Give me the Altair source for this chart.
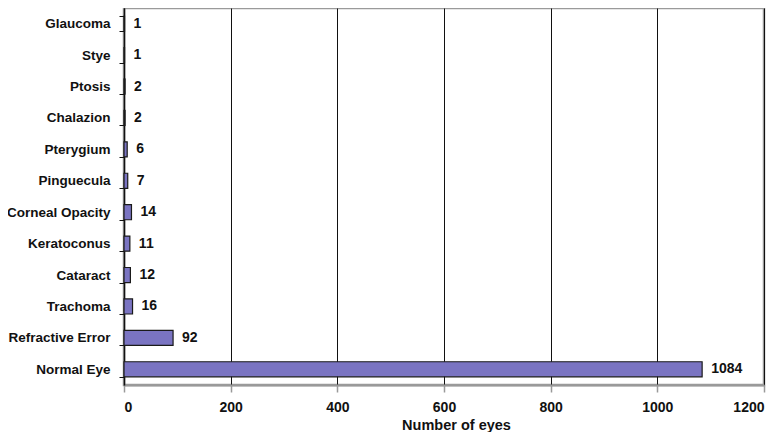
import altair as alt
import pandas as pd

categories = ["Glaucoma", "Stye", "Ptosis", "Chalazion", "Pterygium", "Pinguecula",
              "Corneal Opacity", "Keratoconus", "Cataract", "Trachoma",
              "Refractive Error", "Normal Eye"]
values = [1, 1, 2, 2, 6, 7, 14, 11, 12, 16, 92, 1084]
x_ticks = [0, 200, 400, 600, 800, 1000, 1200]

df = pd.DataFrame({"cat": categories, "n": values})

FONT = "Liberation Sans"

y_enc = alt.Y("cat:N", sort=categories, title=None,
              scale=alt.Scale(paddingInner=0.52, paddingOuter=0.26),
              axis=alt.Axis(domainColor="#111", domainWidth=1.5, tickColor="#111",
                            tickSize=5, tickBand="extent", labelFont=FONT,
                            labelFontWeight="bold", labelFontSize=13.5, labelColor="#111",
                            labelPadding=9, grid=False))
x_enc = alt.X("n:Q", title="Number of eyes",
              scale=alt.Scale(domain=[0, 1200], nice=False),
              axis=alt.Axis(values=x_ticks, format="d",
                            grid=True, gridColor="#111", gridWidth=1,
                            domainColor="#999", domainWidth=2,
                            tickColor="#999", tickSize=7, tickWidth=1.5,
                            labelFont=FONT, labelFontWeight="bold", labelFontSize=14,
                            labelColor="#111", labelPadding=8,
                            titleFont=FONT, titleFontWeight="bold", titleFontSize=14.5,
                            titleColor="#111", titleX=332, titleY=44,
                            titleBaseline="alphabetic"))

bars = alt.Chart(df).mark_bar(color="#7a74c2", stroke="#1a1a1a", strokeWidth=1.2,
                              cornerRadius=0).encode(x=x_enc, y=y_enc)

text = alt.Chart(df).mark_text(align="left", dx=9, font=FONT, fontWeight="bold",
                               fontSize=14, color="#111").encode(
    x="n:Q", y=alt.Y("cat:N", sort=categories), text="n:Q")

chart = (bars + text).properties(
    width=640, height=377,
    autosize=alt.AutoSizeParams(type="none"),
    padding={"left": 116, "top": 0, "right": 8, "bottom": 47},
    background="white",
).configure_view(stroke="#9a9a9a", strokeWidth=2.5)

chart.save("out.html", embed_options={"renderer": "svg", "actions": False})
